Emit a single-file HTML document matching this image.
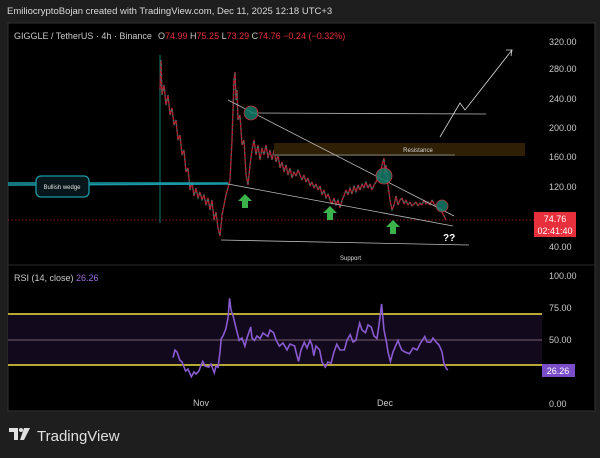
<!DOCTYPE html>
<html><head><meta charset="utf-8"><style>
body{margin:0;background:#1e1e1e;width:600px;height:458px;overflow:hidden;font-family:"Liberation Sans",sans-serif}
svg{display:block}
text{font-family:"Liberation Sans",sans-serif}
</style></head><body>
<svg width="600" height="458" xmlns="http://www.w3.org/2000/svg">
<rect width="600" height="458" fill="#1e1e1e"/>
<text x="7" y="14" fill="#d8d8d8" font-size="9.5">EmiliocryptoBojan created with TradingView.com, Dec 11, 2025 12:18 UTC+3</text>
<rect x="8" y="23" width="587" height="388" fill="#000" stroke="#333" stroke-width="1"/>
<line x1="8" y1="265" x2="595" y2="265" stroke="#2a2a2a"/>
<text x="14" y="39" fill="#c8c8c8" font-size="9">GIGGLE / TetherUS · 4h · Binance</text>
<text x="158" y="39" font-size="9" fill="#c8c8c8">O<tspan fill="#e8303c">74.99</tspan> H<tspan fill="#e8303c">75.25</tspan> L<tspan fill="#e8303c">73.29</tspan> C<tspan fill="#e8303c">74.76</tspan> <tspan fill="#e8303c">−0.24 (−0.32%)</tspan></text>
<g fill="#c8c8c8" font-size="9">
<text x="549" y="45">320.00</text><text x="549" y="72">280.00</text><text x="549" y="102">240.00</text><text x="549" y="131">200.00</text><text x="549" y="160">160.00</text><text x="549" y="190">120.00</text><text x="549" y="250">40.00</text>
<text x="549" y="279">100.00</text><text x="549" y="311">75.00</text><text x="549" y="343">50.00</text><text x="549" y="407">0.00</text>
<text x="193" y="406">Nov</text><text x="377" y="406">Dec</text>
</g>
<line x1="8" y1="220" x2="534" y2="220" stroke="#8a1a22" stroke-dasharray="1.5,2"/>
<line x1="160" y1="55" x2="160" y2="223" stroke="#167a72"/>
<polyline fill="none" stroke="#b0202e" stroke-width="1.4" stroke-linejoin="bevel" points="160,90 161,60 162,95 164,85 166,105 168,95 170,115 172,108 174,125 176,120 178,140 180,135 182,155 184,150 186,172 188,168 190,190 192,182 194,196 196,188 198,198 200,192 202,200 204,195 206,205 208,198 210,210 212,200 214,220 216,212 218,228 220,236 222,215 224,205 226,195 228,188 230,180 232,140 233,110 234,80 235,72 236,100 237,90 238,120 240,115 242,145 244,140 246,175 248,185 250,165 252,150 254,140 256,155 258,145 260,160 262,148 264,155 266,145 268,158 270,150 272,160 274,150 276,162 278,155 280,168 282,162 284,172 286,165 288,175 290,168 292,178 294,172 296,176 298,170 300,175 302,180 304,175 306,182 308,178 310,186 312,182 314,188 316,184 318,190 320,186 322,195 324,190 326,198 328,194 330,200 332,204 334,198 336,205 338,200 340,208 342,200 344,196 346,190 348,195 350,188 352,194 354,186 356,192 358,185 360,190 362,184 364,188 366,182 368,188 370,184 372,190 374,185 376,182 378,178 380,175 382,165 384,158 385,175 386,165 388,185 390,200 392,210 394,205 396,196 398,205 400,200 402,198 404,204 406,200 408,205 410,202 412,206 414,204 416,202 418,206 420,203 422,205 424,200 426,204 428,202 430,205 432,200 434,204 436,206 438,208 440,210 442,212 444,216 446,220"/>
<polyline fill="none" stroke="#1b8a7a" stroke-width="1" stroke-dasharray="1.5,3.5" points="160,90 161,60 162,95 164,85 166,105 168,95 170,115 172,108 174,125 176,120 178,140 180,135 182,155 184,150 186,172 188,168 190,190 192,182 194,196 196,188 198,198 200,192 202,200 204,195 206,205 208,198 210,210 212,200 214,220 216,212 218,228 220,236 222,215 224,205 226,195 228,188 230,180 232,140 233,110 234,80 235,72 236,100 237,90 238,120 240,115 242,145 244,140 246,175 248,185 250,165 252,150 254,140 256,155 258,145 260,160 262,148 264,155 266,145 268,158 270,150 272,160 274,150 276,162 278,155 280,168 282,162 284,172 286,165 288,175 290,168 292,178 294,172 296,176 298,170 300,175 302,180 304,175 306,182 308,178 310,186 312,182 314,188 316,184 318,190 320,186 322,195 324,190 326,198 328,194 330,200 332,204 334,198 336,205 338,200 340,208 342,200 344,196 346,190 348,195 350,188 352,194 354,186 356,192 358,185 360,190 362,184 364,188 366,182 368,188 370,184 372,190 374,185 376,182 378,178 380,175 382,165 384,158 385,175 386,165 388,185 390,200 392,210 394,205 396,196 398,205 400,200 402,198 404,204 406,200 408,205 410,202 412,206 414,204 416,202 418,206 420,203 422,205 424,200 426,204 428,202 430,205 432,200 434,204 436,206 438,208 440,210 442,212 444,216 446,220"/>
<!-- drawings -->
<rect x="274" y="143" width="251" height="13" fill="#2e1f05"/>
<text x="418" y="152" fill="#d8d8d8" font-size="6" text-anchor="middle">Resistance</text>
<line x1="274" y1="155" x2="455" y2="155" stroke="#999" stroke-width="0.7"/>
<g stroke="#bbb" stroke-width="0.8" fill="none">
<line x1="228" y1="100" x2="454" y2="216"/>
<line x1="228" y1="184" x2="453" y2="226"/>
<line x1="250" y1="113" x2="486" y2="114"/>
<line x1="221" y1="240" x2="469" y2="245"/>
<polyline points="440,137 460,103 465,110 512,50" stroke="#ddd"/>
<polyline points="506,50 512,50 511,56" stroke="#ddd"/>
</g>
<g fill="#137a68" stroke="#c0303a" stroke-width="0.8" fill-opacity="0.85">
<circle cx="251" cy="113" r="7"/><circle cx="384" cy="176" r="8"/><circle cx="442" cy="206" r="6"/>
</g>
<g fill="#3cb34a">
<path d="M245,194 l7,7 h-4 v7 h-6 v-7 h-4z"/>
<path d="M330,206 l7,7 h-4 v7 h-6 v-7 h-4z"/>
<path d="M393,220 l7,7 h-4 v7 h-6 v-7 h-4z"/>
</g>
<text x="443" y="241" fill="#fff" font-size="10" font-weight="bold">??</text>
<text x="340" y="260" fill="#ddd" font-size="6">Support</text>
<g stroke="#1a9aa8" stroke-width="1.5" fill="none">
<line x1="8" y1="183" x2="228" y2="183"/>
<line x1="8" y1="185" x2="228" y2="184"/>
</g>
<rect x="36" y="176" width="53" height="21" rx="5" fill="#06161a" stroke="#1a9aa8" stroke-width="1.3"/>
<text x="62" y="189" fill="#e0e0e0" font-size="6" text-anchor="middle">Bullish wedge</text>
<rect x="534" y="212" width="42" height="25" fill="#e8303c"/>
<text x="555" y="222" fill="#fff" font-size="9" text-anchor="middle">74.76</text>
<text x="555" y="234" fill="#fff" font-size="9" text-anchor="middle">02:41:40</text>
<!-- RSI -->
<text x="14" y="281" fill="#c8c8c8" font-size="9">RSI (14, close) <tspan fill="#9a6ee0">26.26</tspan></text>
<rect x="8" y="314" width="534" height="51" fill="#120a1c"/>
<line x1="8" y1="314" x2="542" y2="314" stroke="#f0e040" stroke-width="1.5"/>
<line x1="8" y1="365" x2="542" y2="365" stroke="#f0e040" stroke-width="1.5"/>
<line x1="8" y1="340" x2="542" y2="340" stroke="#7a6070" stroke-width="1"/>
<polyline fill="none" stroke="#8a5ad0" stroke-width="1.6" points="173,357.6 175,350 177,352 179.9,360.3 182,362 185.6,371 188,369 191.4,376.7 194,372 196,374 199,371 201,365 202.8,361.4 205,366 208.6,367.2 211,364 214.3,372.9 216,366 218.1,367.2 220,352 221.2,338.5 223,336 225.8,328.9 228,318 229.6,298.3 231,310 233.5,317.4 236,328 239.2,340.4 242,338 244.9,346.1 247,338 250.7,327 252,338 254.5,340.4 257,336 260.2,338.5 263,333 267.9,336.5 270,330 273.6,332.7 276,340 279.4,346.1 283,343 287,349.9 290,344 294.7,346.1 296,352 298.5,361.4 301,350 304.3,342.3 307,348 310,340.4 312,345 313.8,355.7 316,346 319.6,349.9 322,362 325.3,367.2 328,362 331,363.3 334,352 336.8,344.2 340,350 344.4,349.9 347,340 350.2,334.6 353,342 355.9,340.4 358,330 359.7,323.1 362,330 365.5,332.7 368,325 371.2,327 374,336 377,338.5 379,325 381.6,304 384,330 386.5,342.3 388,352 390.4,361.4 393,352 396,345 398,340.4 400,346 401.8,349.9 405,352 409.5,353.8 413,348 417.1,349.9 420,344 424.8,336.5 427,342 430.5,342.3 433,338 436.3,342.3 439,345 442,351.8 443.9,363.3 446,368 447.8,370.2"/>
<rect x="542" y="364" width="33" height="13" fill="#7a4ec8"/>
<text x="558" y="374" fill="#fff" font-size="9" text-anchor="middle">26.26</text>
<!-- logo -->
<g fill="#e0e0e0">
<path d="M9,428 h9 v12 h-4 v-8 h-5z"/><circle cx="21" cy="430" r="2"/><path d="M24,428 h6 l-6,12 h-4z"/>
</g>
<text x="37" y="441" fill="#e0e0e0" font-size="15">TradingView</text>
</svg>
</body></html>
